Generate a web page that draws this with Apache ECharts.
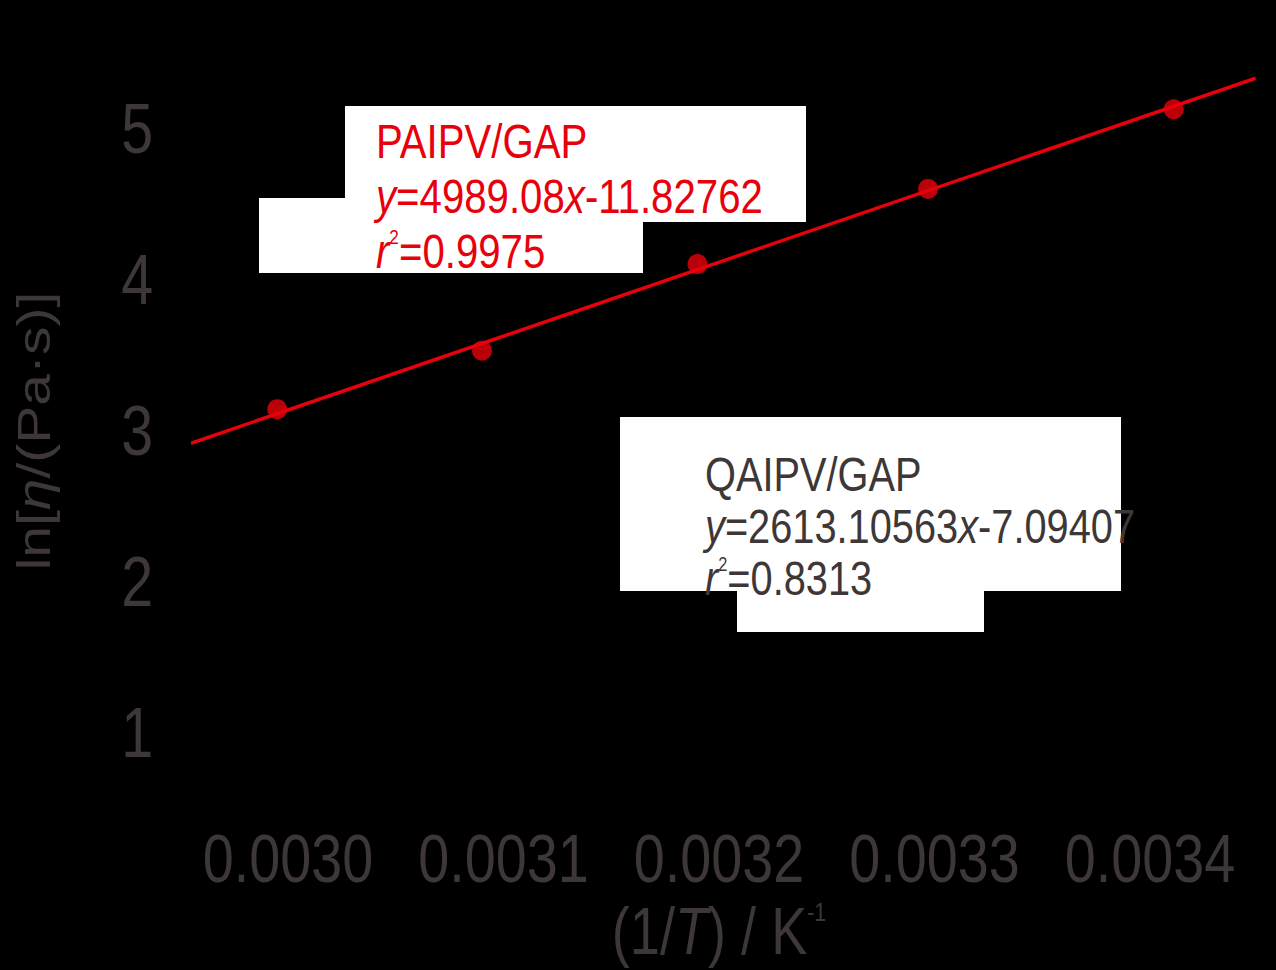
<!DOCTYPE html>
<html>
<head>
<meta charset="utf-8">
<script src="https://cdn.jsdelivr.net/npm/echarts@6/dist/echarts.min.js"></script>
<style>
html,body{margin:0;padding:0;background:#000;overflow:hidden;width:1276px;height:970px;}
#chart{height:970px;transform-origin:0 0;}
</style>
</head>
<body>
<div id="chart"></div>
<script>
// ---- data ----
const xTicks = [0.0030, 0.0031, 0.0032, 0.0033, 0.0034];
const yTicks = [1, 2, 3, 4, 5];
const invT = [0.002995, 0.003090, 0.003190, 0.003297, 0.003411];
const lnEta = [3.144, 3.532, 4.106, 4.603, 5.130];
const fitX = [0.002955, 0.003449];
const fitY = [2.919, 5.336];
const paipvLines = ['PAIPV/GAP', '{i|y}=4989.08{i|x}-11.82762', '{i|r}{sup|2}=0.9975'];
const qaipvLines = ['QAIPV/GAP', '{i|y}=2613.10563{i|x}-7.09407', '{i|r}{sup|2}=0.8313'];

// the original uses a condensed face; emulate it with a horizontal squeeze of the whole drawing
const S = 0.82;
const W = 1276 / S;
const px = v => v / S;

const FONT = "'Liberation Sans', Arial, sans-serif";
const GREY = '#3d3737';
const RED = '#e8000b';

const el = document.getElementById('chart');
el.style.width = W + 'px';
el.style.transform = 'scaleX(' + S + ')';

function richFor(size, color) {
  return {
    i: {fontStyle: 'italic', fontSize: size, fontFamily: FONT, color: color},
    sup: {fontSize: Math.round(size * 0.42), fontFamily: FONT, color: color, verticalAlign: 'top'}
  };
}

function textEl(str, x, y, size, color) {
  return {
    type: 'text', x: px(x), y: y, z: 20,
    style: {
      text: str, fill: color, fontSize: size, fontFamily: FONT,
      verticalAlign: 'middle', align: 'left',
      rich: richFor(size, color)
    }
  };
}

function box(x, y, w, h) {
  return {type: 'rect', z: 5, shape: {x: px(x), y: y, width: px(w), height: h}, style: {fill: '#fff'}};
}

const chart = echarts.init(el, null, {renderer: 'svg', width: W, height: 970});
const option = {
  backgroundColor: '#000',
  animation: false,
  grid: {left: px(180.25), right: px(18.25), top: 53.5, bottom: 161.5, containLabel: false, outerBoundsMode: 'none'},
  xAxis: {
    type: 'value', min: 0.00295, max: 0.00345,
    axisLine: {show: false}, axisTick: {show: false}, splitLine: {show: false},
    axisLabel: {
      customValues: xTicks, color: GREY, fontSize: 68, fontFamily: FONT, margin: 16,
      formatter: v => v.toFixed(4)
    },
    name: '(1/{i|T}) / K{sup|-1}', nameLocation: 'middle', nameGap: 90,
    nameTextStyle: {
      color: GREY, fontSize: 66, fontFamily: FONT,
      rich: {
        i: {fontStyle: 'italic', fontSize: 66, fontFamily: FONT, color: GREY},
        sup: {fontSize: 26, fontFamily: FONT, color: GREY, verticalAlign: 'top'}
      }
    }
  },
  yAxis: {
    type: 'value', min: 0.5, max: 5.5,
    axisLine: {show: false}, axisTick: {show: false}, splitLine: {show: false},
    axisLabel: {customValues: yTicks, color: GREY, fontSize: 70, fontFamily: FONT, margin: px(27)},
    name: 'ln[{i|η}/(Pa·s)]', nameLocation: 'middle', nameRotate: 90, nameGap: 150,
    nameTextStyle: {
      color: GREY, fontSize: 57, fontFamily: FONT,
      rich: {i: {fontStyle: 'italic', fontSize: 57, fontFamily: FONT, color: GREY}}
    }
  },
  graphic: [
    box(345, 106, 461, 116),
    box(259, 198, 384, 75),
    box(620, 417, 501, 174),
    box(737, 590, 247, 42),
    textEl(paipvLines[0], 376, 141, 49, RED),
    textEl(paipvLines[1], 376, 196, 49, RED),
    textEl(paipvLines[2], 376, 251, 49, RED),
    textEl(qaipvLines[0], 705, 474, 48.5, GREY),
    textEl(qaipvLines[1], 705, 526, 48.5, GREY),
    textEl(qaipvLines[2], 705, 578, 48.5, GREY)
  ],
  series: [
    {
      type: 'line', data: fitX.map((x, i) => [x, fitY[i]]),
      showSymbol: false, symbol: 'none', z: 3,
      lineStyle: {color: RED, width: 3.5}
    },
    {
      type: 'scatter', data: invT.map((x, i) => [x, lnEta[i]]),
      symbol: 'circle', symbolSize: [px(20), 20], z: 4,
      itemStyle: {color: RED}
    }
  ]
};
chart.setOption(option);
</script>
</body>
</html>
